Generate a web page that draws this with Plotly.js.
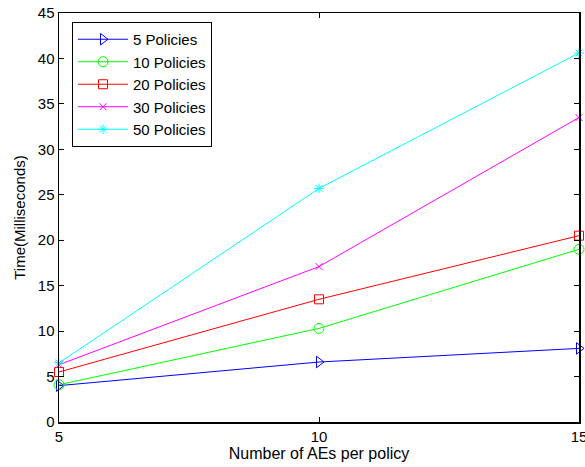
<!DOCTYPE html>
<html>
<head>
<meta charset="utf-8">
<script src="https://cdn.plot.ly/plotly-3.0.1.min.js"></script>
<style>html,body{margin:0;padding:0;background:#fff;}#chart{width:585px;height:467px;}</style>
</head>
<body>
<div id="chart"></div>
<script>
const xValues = [5, 10, 15];
const seriesNames = ["5 Policies", "10 Policies", "20 Policies", "30 Policies", "50 Policies"];
const p5 = [4.0, 6.6, 8.1];
const p10 = [4.1, 10.3, 19.0];
const p20 = [5.5, 13.5, 20.5];
const p30 = [6.3, 17.1, 33.5];
const p50 = [6.5, 25.7, 40.6];
const yTicks = [0, 5, 10, 15, 20, 25, 30, 35, 40, 45];
const xTicks = [5, 10, 15];

const colors = ["#0000ff", "#00ff00", "#ff0000", "#ff00ff", "#00ffff"];
const symbols = ["triangle-right-open", "circle-open", "square-open", "x-thin-open", "asterisk-open"];
const sizes = [10, 10, 9, 7, 8];
const allY = [p5, p10, p20, p30, p50];

const traces = allY.map((ys, i) => ({
  x: xValues,
  y: ys,
  name: seriesNames[i],
  type: "scatter",
  mode: "lines+markers",
  line: {color: colors[i], width: 1},
  marker: {symbol: symbols[i], size: sizes[i], color: colors[i], line: {color: colors[i], width: 1}},
  cliponaxis: false
}));

const fam = "Liberation Sans, Arial, Helvetica, sans-serif";

const layout = {
  width: 585,
  height: 467,
  margin: {l: 59, r: 6, t: 13, b: 45},
  paper_bgcolor: "#fff",
  plot_bgcolor: "#fff",
  font: {family: fam, size: 15, color: "#000"},
  showlegend: true,
  legend: {
    x: 0.025, y: 0.978, xanchor: "left", yanchor: "top",
    bordercolor: "#000", borderwidth: 1, bgcolor: "#fff",
    font: {family: fam, size: 15, color: "#000"},
    itemwidth: 50,
    tracegroupgap: 0
  },
  xaxis: {
    range: [5, 15],
    tickvals: xTicks,
    ticktext: xTicks.map(String),
    ticks: "inside", ticklen: 5, tickcolor: "#000",
    showline: true, linecolor: "#000", linewidth: 1.5, mirror: "ticks",
    showgrid: false, zeroline: false,
    ticklabeloverflow: "allow",
    tickfont: {family: fam, size: 15, color: "#000"},
    title: {text: "Number of AEs per policy", font: {family: fam, size: 16, color: "#000"}, standoff: 4}
  },
  yaxis: {
    range: [0, 45],
    tickvals: yTicks,
    ticktext: yTicks.map(String),
    ticks: "inside", ticklen: 5, tickcolor: "#000",
    showline: true, linecolor: "#000", linewidth: 1.5, mirror: "ticks",
    showgrid: false, zeroline: false,
    tickfont: {family: fam, size: 15, color: "#000"},
    title: {text: "Time(Milliseconds)", font: {family: fam, size: 15, color: "#000"}, standoff: 8}
  }
};

Plotly.newPlot("chart", traces, layout, {displayModeBar: false, staticPlot: true});
</script>
</body>
</html>
